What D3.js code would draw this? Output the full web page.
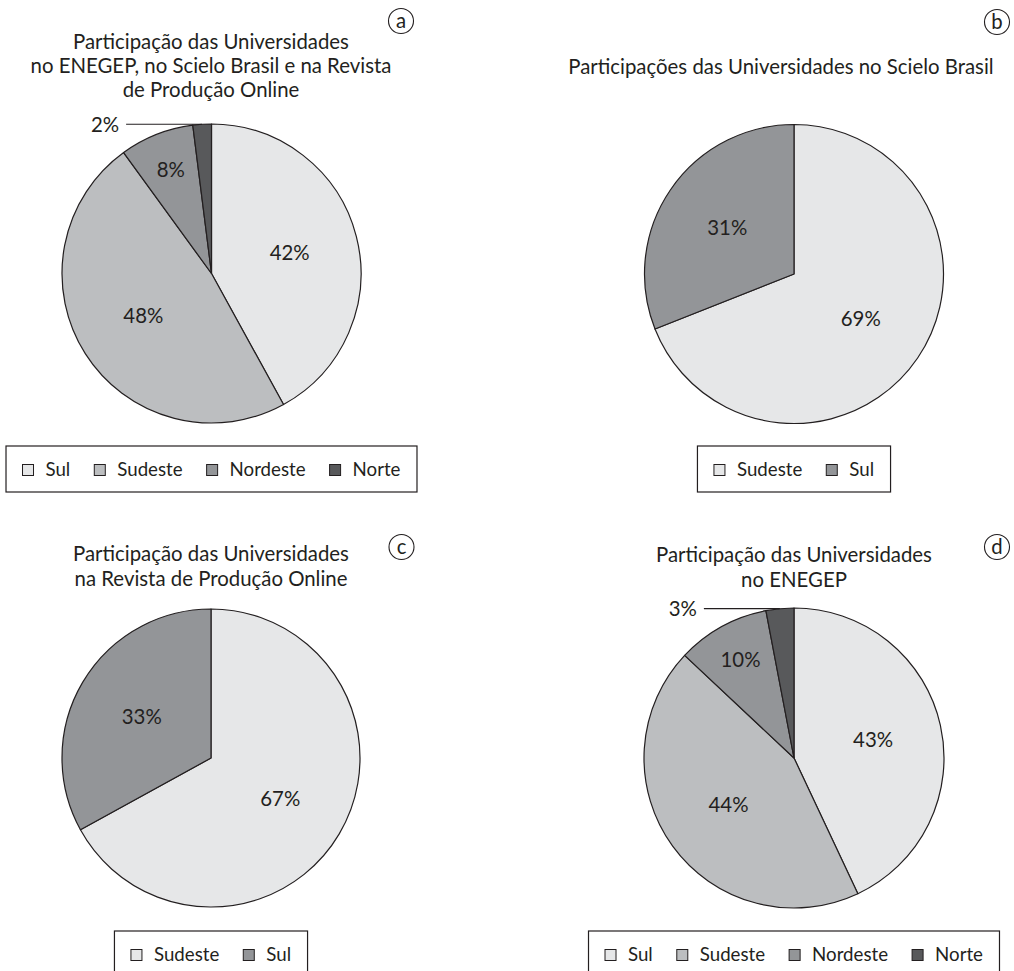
<!DOCTYPE html>
<html><head><meta charset="utf-8">
<script src="https://cdn.jsdelivr.net/npm/d3@7"></script>
<style>
html,body{margin:0;padding:0;background:#fff;}
svg{display:block;}
text{font-family:Lato,"Open Sans",sans-serif;fill:#231f20;}
</style></head>
<body>
<svg id="chart" width="1014" height="971"></svg>
<script>
// ---- data ----
const catsA = ["Sul", "Sudeste", "Nordeste", "Norte"];
const valsA = [42, 48, 8, 2];
const titleA = ["Participação das Universidades", "no ENEGEP, no Scielo Brasil e na Revista", "de Produção Online"];

const catsB = ["Sudeste", "Sul"];
const valsB = [69, 31];
const titleB = ["Participações das Universidades no Scielo Brasil"];

const catsC = ["Sudeste", "Sul"];
const valsC = [67, 33];
const titleC = ["Participação das Universidades", "na Revista de Produção Online"];

const catsD = ["Sul", "Sudeste", "Nordeste", "Norte"];
const valsD = [43, 44, 10, 3];
const titleD = ["Participação das Universidades", "no ENEGEP"];

const letters = ["a", "b", "c", "d"];

// ---- styles / layout ----
const pal4 = ["#e6e7e8", "#bcbec0", "#939598", "#58595b"];
const pal2 = ["#e6e7e8", "#939598"];
const ink = "#231f20";

const svg = d3.select("#chart");

function measure(str) {
  const t = svg.append("text").attr("font-size", 100).text(str);
  const w = t.node().getComputedTextLength();
  t.remove();
  return w;
}
// title font: fit so the title lines roughly match the reference widths
const fs = Math.min(22, Math.max(14, 100 * 276 / measure("Participação das Universidades")));
// legend font: fit so legend labels match the reference widths
const legSum = catsA.reduce((s, c) => s + measure(c), 0);
const lfs = Math.min(22, Math.max(14, 100 * 214 / legSum));

const panels = [
  {cats: catsA, vals: valsA, title: titleA, pal: pal4, cx: 211.5, cy: 273.5, r: 149.5,
   tx: 211, ty: 49, lh: 24, lx: 401, ly: 21, legTop: 446},
  {cats: catsB, vals: valsB, title: titleB, pal: pal2, cx: 794, cy: 274, r: 149.5,
   tx: 781, ty: 74, lh: 24, lx: 997, ly: 22, legTop: 446},
  {cats: catsC, vals: valsC, title: titleC, pal: pal2, cx: 211, cy: 758, r: 149,
   tx: 211, ty: 561, lh: 25, lx: 401.5, ly: 547, legTop: 931},
  {cats: catsD, vals: valsD, title: titleD, pal: pal4, cx: 794, cy: 758, r: 150,
   tx: 794, ty: 562, lh: 25, lx: 997, ly: 547, legTop: 931}
];

const pie = d3.pie().sort(null).value(d => d.v);

panels.forEach((p, pi) => {
  const g = svg.append("g");
  const data = p.cats.map((c, i) => ({c, v: p.vals[i], col: p.pal[i]}));
  const total = d3.sum(p.vals);
  const arcs = pie(data);
  const arc = d3.arc().innerRadius(0).outerRadius(p.r);

  // title
  const t = g.append("text").attr("text-anchor", "middle").attr("font-size", fs);
  p.title.forEach((line, i) => {
    t.append("tspan").attr("x", p.tx).attr("y", p.ty + i * p.lh).text(line);
  });

  // circled letter
  g.append("circle").attr("cx", p.lx).attr("cy", p.ly).attr("r", 12.5)
    .attr("fill", "none").attr("stroke", ink).attr("stroke-width", 1.1);
  g.append("text").attr("x", p.lx).attr("y", p.ly).attr("dy", "0.34em")
    .attr("text-anchor", "middle").attr("font-size", fs).text(letters[pi]);

  // slices
  const pg = g.append("g").attr("transform", `translate(${p.cx},${p.cy})`);
  pg.selectAll("path").data(arcs).join("path")
    .attr("d", arc).attr("fill", d => d.data.col)
    .attr("stroke", ink).attr("stroke-width", 1.2).attr("stroke-linejoin", "round");

  // labels
  arcs.forEach(a => {
    const frac = a.data.v / total;
    const mid = (a.startAngle + a.endAngle) / 2;
    const txt = a.data.v + "%";
    if (frac < 0.05) {
      const mx = p.r * Math.sin(mid), my = -p.r * Math.cos(mid);
      pg.append("line").attr("x1", mx - 76).attr("x2", mx).attr("y1", my).attr("y2", my)
        .attr("stroke", ink).attr("stroke-width", 1.1);
      pg.append("text").attr("x", mx - 83).attr("y", my).attr("dy", "0.38em")
        .attr("text-anchor", "end").attr("font-size", fs).text(txt);
    } else {
      const lr = frac < 0.15 ? 0.74 * p.r : 0.54 * p.r;
      const c = d3.arc().innerRadius(lr).outerRadius(lr).centroid(a);
      pg.append("text").attr("x", c[0]).attr("y", c[1]).attr("dy", "0.33em")
        .attr("text-anchor", "middle").attr("font-size", fs).text(txt);
    }
  });

  // legend
  const lg = g.append("g");
  const sq = 11, gap1 = 12, gap2 = 24, pad = 16.5, bh = 46;
  let x = 0;
  const items = [];
  data.forEach((d, i) => {
    const tt = lg.append("text").attr("font-size", lfs).attr("dy", "0.36em").text(d.c);
    const w = tt.node().getComputedTextLength();
    items.push({d, tt, x});
    x += sq + gap1 + w + (i < data.length - 1 ? gap2 : 0);
  });
  const contentW = x;
  const bw = contentW + 2 * pad;
  const bx = p.cx - bw / 2;
  const midY = p.legTop + bh / 2;
  lg.insert("rect", ":first-child").attr("x", bx).attr("y", p.legTop).attr("width", bw).attr("height", bh)
    .attr("fill", "#fff").attr("stroke", ink).attr("stroke-width", 1.2);
  items.forEach(it => {
    const x0 = bx + pad + it.x;
    lg.append("rect").attr("x", x0).attr("y", midY - sq / 2 + 1).attr("width", sq).attr("height", sq)
      .attr("fill", it.d.col).attr("stroke", ink).attr("stroke-width", 1);
    it.tt.attr("x", x0 + sq + gap1).attr("y", midY);
  });
});
</script>
</body></html>
